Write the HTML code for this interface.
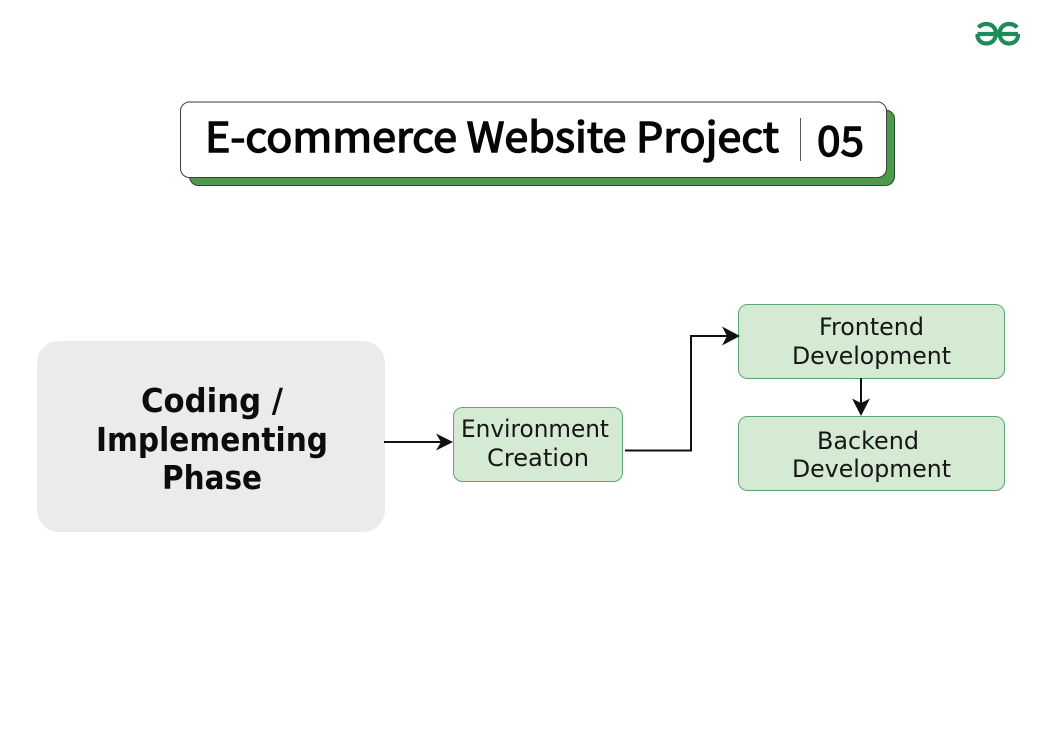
<!DOCTYPE html>
<html>
<head>
<meta charset="utf-8">
<style>
html,body{margin:0;padding:0;background:#fff;width:1043px;height:746px;overflow:hidden}
svg{display:block}
.t{font-family:"Noto Sans CJK KR","Liberation Sans",sans-serif;font-weight:400;fill:#060606;stroke:#060606;stroke-width:1.4px}
.b{font-family:"DejaVu Sans",sans-serif;font-size:24px;fill:#161616}
.h{font-family:"DejaVu Sans",sans-serif;font-weight:700;font-size:33px;fill:#0c0c0c}
</style>
</head>
<body>
<svg width="1043" height="746" viewBox="0 0 1043 746" xmlns="http://www.w3.org/2000/svg">
<rect width="1043" height="746" fill="#fff"/>
<!-- logo -->
<g fill="none" stroke="#1f8a5a" stroke-width="4.200">
<path d="M977.500 34H996C996 27.500 991.500 24 986.500 24C983 24 980.500 25 978.500 27.500"/>
<path d="M977.500 34C977 40 981.500 43.500 986.500 43.500C991.500 43.500 995.500 40 996 34"/>
<path d="M1018 34H999.500C999.500 27.500 1004 24 1009 24C1012.500 24 1015 25 1017 27.500"/>
<path d="M1018 34C1018.500 40 1014 43.500 1009 43.500C1004 43.500 1000 40 999.500 34"/>
</g>
<!-- title -->
<rect x="189.500" y="110" width="705" height="75.500" rx="9" fill="#4c9a4a" stroke="#22502a" stroke-width="1"/>
<rect x="180.500" y="102" width="706" height="75.500" rx="9" fill="#fff" stroke="#3c3c3c" stroke-width="1"/>
<text class="t" x="205" y="152" font-size="41" textLength="574" lengthAdjust="spacingAndGlyphs">E-commerce Website Project</text>
<rect x="800" y="118" width="1" height="43" fill="#555"/>
<text class="t" x="817" y="156" font-size="41" textLength="47" lengthAdjust="spacingAndGlyphs">05</text>
<!-- phase box -->
<rect x="37" y="341" width="348" height="191" rx="22" fill="#ebebeb"/>
<text class="h" x="212" y="412" text-anchor="middle" textLength="142" lengthAdjust="spacingAndGlyphs">Coding /</text>
<text class="h" x="212" y="451" text-anchor="middle" textLength="232" lengthAdjust="spacingAndGlyphs">Implementing</text>
<text class="h" x="212" y="489" text-anchor="middle" textLength="100" lengthAdjust="spacingAndGlyphs">Phase</text>
<!-- green boxes -->
<g fill="#d4ead2" stroke="#5da777" stroke-width="1">
<rect x="453.500" y="407.500" width="169" height="74" rx="9"/>
<rect x="738.500" y="304.500" width="266" height="74" rx="9"/>
<rect x="738.500" y="416.500" width="266" height="74" rx="9"/>
</g>
<text class="b" x="535" y="437" text-anchor="middle" textLength="148" lengthAdjust="spacingAndGlyphs">Environment</text>
<text class="b" x="538" y="466" text-anchor="middle" textLength="102" lengthAdjust="spacingAndGlyphs">Creation</text>
<text class="b" x="871.500" y="335" text-anchor="middle" textLength="105" lengthAdjust="spacingAndGlyphs">Frontend</text>
<text class="b" x="871.500" y="364" text-anchor="middle" textLength="159" lengthAdjust="spacingAndGlyphs">Development</text>
<text class="b" x="868" y="449" text-anchor="middle" textLength="102" lengthAdjust="spacingAndGlyphs">Backend</text>
<text class="b" x="871.500" y="477" text-anchor="middle" textLength="159" lengthAdjust="spacingAndGlyphs">Development</text>
<!-- connectors -->
<g fill="none" stroke="#111" stroke-width="2">
<path d="M384 442H441"/>
<path d="M625 450.500H691V336H728"/>
<path d="M861 378V405"/>
</g>
<g fill="#111">
<path d="M453 442L436 433.500L441 442L436 450.500Z"/>
<path d="M740 336L722 326.500L727 336L722 345.500Z"/>
<path d="M861 416L852 398.500L861 403L870 398.500Z"/>
</g>
</svg>
</body>
</html>
